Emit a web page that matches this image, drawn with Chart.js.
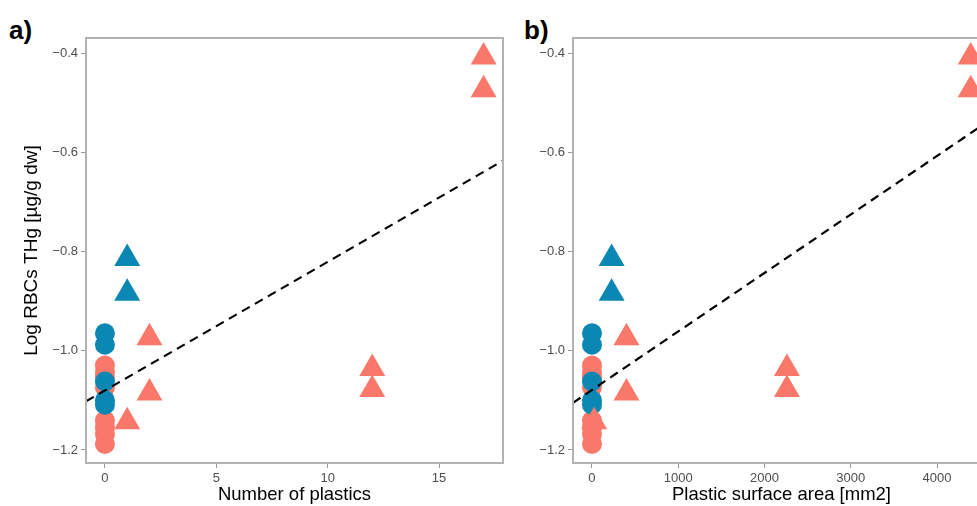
<!DOCTYPE html>
<html>
<head>
<meta charset="utf-8">
<script src="https://cdn.jsdelivr.net/npm/chart.js@4.4.1/dist/chart.umd.min.js"></script>
<style>
  html, body { margin: 0; padding: 0; background: #fff; }
  body { width: 977px; height: 506px; overflow: hidden; position: relative; font-family: "Liberation Sans", Arial, sans-serif; }
  canvas { position: absolute; top: 0; }
  #cA { left: 0; }
  #cB { left: 520px; }
  .tag { position: absolute; top: 17px; font: bold 26px/26px "Liberation Sans", Arial, sans-serif; color: #000; }
</style>
</head>
<body>
<div class="tag" style="left:9px">a)</div>
<div class="tag" style="left:524px">b)</div>
<canvas id="cA" width="520" height="506"></canvas>
<canvas id="cB" width="500" height="506"></canvas>
<script>
(function() {
/* ---------- Dados ---------- */
// circles: fish without plastics (x = 0 in both panels)
const redCircleY  = [-1.030, -1.044, -1.054, -1.074, -1.141, -1.155, -1.168, -1.188];
const blueCircleY = [-0.965, -0.988, -1.062, -1.100, -1.109];

// triangles: fish with plastics
const redTriNum   = [1, 2, 2, 12, 12, 17, 17];
const redTriArea  = [25, 400, 400, 2260, 2260, 4390, 4390];
const redTriY     = [-1.143, -0.974, -1.085, -1.036, -1.078, -0.408, -0.474];
const blueTriNum  = [1, 1];
const blueTriArea = [228, 228];
const blueTriY    = [-0.814, -0.884];

// dashed fit lines (end points)
const fitNumX  = [-0.85, 17.87];
const fitNumY  = [-1.102, -0.617];
const fitAreaX = [-220, 4614];
const fitAreaY = [-1.105, -0.535];

const yTicks     = [-1.2, -1.0, -0.8, -0.6, -0.4];
const numTicks   = [0, 5, 10, 15];
const areaTicks  = [0, 1000, 2000, 3000, 4000];

/* ---------- Estilo ---------- */
const RED = '#FA7869';
const BLUE = '#0A87B2';
const BORDER = '#b3b3b3';
const TICKTXT = '#4d4d4d';
const FONT = '"Liberation Sans", Arial, sans-serif';
Chart.defaults.font.family = FONT;

function pts(xs, ys) { return ys.map((y, i) => ({ x: xs[i], y: y })); }
function zeros(ys) { return ys.map(() => 0); }

const borderBox = {
  id: 'borderBox',
  afterDatasetsDraw(chart) {
    const { ctx, chartArea: a } = chart;
    ctx.save();
    ctx.strokeStyle = BORDER;
    ctx.lineWidth = 2;
    ctx.strokeRect(a.left, a.top, a.right - a.left, a.bottom - a.top);
    ctx.restore();
  }
};

function montar(canvasId, opts) {
  const datasets = [
    { type: 'line', data: pts(opts.fitX, opts.fitY), borderColor: '#000', borderWidth: 2.2,
      borderDash: [9, 6], pointRadius: 0, showLine: true, fill: false, order: 0 },
    { data: pts(opts.blueTriX, blueTriY), pointStyle: 'triangle', pointRadius: 15,
      backgroundColor: BLUE, borderWidth: 0, order: 1 },
    { data: pts(opts.redTriX, redTriY), pointStyle: 'triangle', pointRadius: 15,
      backgroundColor: RED, borderWidth: 0, order: 2 },
    { data: pts(zeros(blueCircleY), blueCircleY), pointStyle: 'circle', pointRadius: 10,
      backgroundColor: BLUE, borderWidth: 0, order: 3 },
    { data: pts(zeros(redCircleY), redCircleY), pointStyle: 'circle', pointRadius: 10,
      backgroundColor: RED, borderWidth: 0, order: 4 }
  ];
  return new Chart(document.getElementById(canvasId), {
    type: 'scatter',
    data: { datasets },
    options: {
      responsive: false,
      animation: false,
      layout: { padding: { top: 38, right: opts.padRight, left: 0, bottom: 0 } },
      plugins: { legend: { display: false }, tooltip: { enabled: false } },
      scales: {
        x: {
          type: 'linear', min: opts.xMin, max: opts.xMax,
          afterBuildTicks: s => { s.ticks = opts.xTicks.map(v => ({ value: v })); },
          afterFit: s => { s.height = 43; },
          ticks: { color: TICKTXT, font: { size: 13 }, padding: 3, maxRotation: 0,
                   callback: v => String(v) },
          grid: { drawOnChartArea: false, drawTicks: true, tickLength: 5, color: '#999', lineWidth: 1 },
          border: { display: false },
          title: { display: true, text: opts.xTitle, color: '#000', font: { size: 18.5 },
                   padding: { top: 0, bottom: 0 } }
        },
        y: {
          type: 'linear', min: -1.2263, max: -0.3697,
          afterBuildTicks: s => { s.ticks = yTicks.map(v => ({ value: v })); },
          afterFit: s => { s.width = opts.yWidth; },
          ticks: { color: TICKTXT, font: { size: 13 }, padding: 3,
                   callback: v => v.toFixed(1).replace('-', '\u2212') },
          grid: { drawOnChartArea: false, drawTicks: true, tickLength: 5, color: '#999', lineWidth: 1 },
          border: { display: false },
          title: { display: opts.yTitle !== '', text: opts.yTitle, color: '#000', font: { size: 19 },
                   padding: { top: 20, bottom: 0 } }
        }
      }
    },
    plugins: [borderBox]
  });
}

/* ---------- Boot ---------- */
montar('cA', {
  fitX: fitNumX, fitY: fitNumY, redTriX: redTriNum, blueTriX: blueTriNum,
  xMin: -0.85, xMax: 17.87, xTicks: numTicks, xTitle: 'Number of plastics',
  yTitle: 'Log RBCs THg [\u00b5g/g dw]', yWidth: 86, padRight: 17
});
montar('cB', {
  fitX: fitAreaX, fitY: fitAreaY, redTriX: redTriArea, blueTriX: blueTriArea,
  xMin: -220, xMax: 4614, xTicks: areaTicks, xTitle: 'Plastic surface area [mm2]',
  yTitle: '', yWidth: 53, padRight: 30
});
})();
</script>
</body>
</html>
